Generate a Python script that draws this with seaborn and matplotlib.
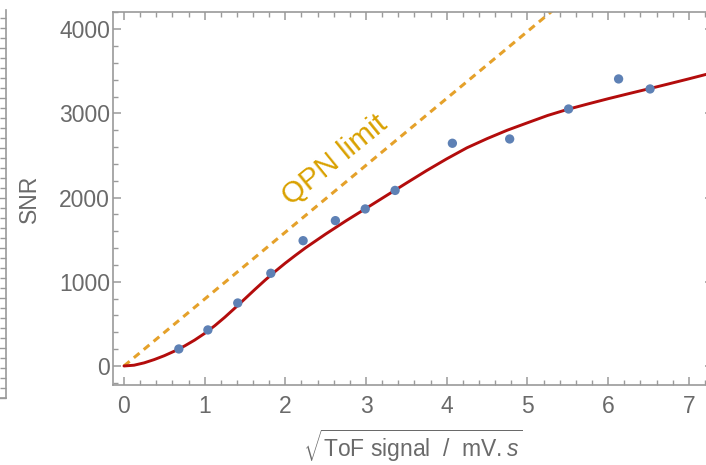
import matplotlib
matplotlib.use("Agg")
import matplotlib.pyplot as plt
import seaborn as sns
from matplotlib.ticker import MultipleLocator

# ---- data ----
meas_x = [0.68, 1.04, 1.41, 1.82, 2.22, 2.62, 2.99, 3.36, 4.07, 4.78, 5.51, 6.13, 6.52]
meas_y = [202, 428, 748, 1101, 1488, 1726, 1865, 2085, 2645, 2696, 3052, 3409, 3290]

fit_x = [0, 0.125, 0.25, 0.375, 0.5, 0.625, 0.75, 0.875, 1.0, 1.125, 1.25, 1.375,
         1.5, 1.625, 1.75, 1.875, 2.0, 2.125, 2.25, 2.5, 2.75, 3.0, 3.25, 3.5,
         3.75, 4.0, 4.25, 4.5, 4.75, 5.0, 5.25, 5.5, 5.75, 6.0, 6.25, 6.5, 6.75,
         7.0, 7.3]
fit_y = [0, 9, 37, 76, 122, 176, 237, 307, 387, 478, 579, 688,
         799, 911, 1020, 1124, 1222, 1314, 1403, 1567, 1723, 1872, 2022, 2172,
         2320, 2460, 2591, 2700, 2800, 2888, 2975, 3048, 3112, 3174, 3233, 3291, 3350,
         3410, 3484]

qpn_x = [0, 7.3]
qpn_y = [0, 5800]

x_ticks = [0, 1, 2, 3, 4, 5, 6, 7]
y_ticks = [0, 1000, 2000, 3000, 4000]

# ---- style ----
sns.set_style("white")
plt.rcParams['font.family'] = ['Liberation Sans', 'DejaVu Sans']
plt.rcParams['mathtext.fontset'] = 'custom'
plt.rcParams['mathtext.rm'] = 'Liberation Sans'
plt.rcParams['mathtext.it'] = 'Liberation Sans:italic'

frame_col = '#9a9a9a'
text_col = '#6a6a6a'

W, H = 706, 465
fig = plt.figure(figsize=(W / 100, H / 100), dpi=100)

# main axes (extends past right edge of the image, as in the reference)
ax = fig.add_axes([113 / W, (H - 385) / H, 600 / W, 373 / H])

sns.lineplot(x=qpn_x, y=qpn_y, ax=ax, color='#E5A12A', linewidth=2.2,
             linestyle=(0, (2.4, 1.8)), zorder=2)
sns.lineplot(x=fit_x, y=fit_y, ax=ax, color='#B30C0C', linewidth=2.1, zorder=3)
sns.scatterplot(x=meas_x, y=meas_y, ax=ax, color='#5E81B5', s=45,
                edgecolor='none', zorder=4)

ax.set_xlim(-0.136, 7.3)
ax.set_ylim(-226, 4204)
ax.set_xticks(x_ticks)
ax.set_yticks(y_ticks)
ax.xaxis.set_minor_locator(MultipleLocator(0.2))
ax.yaxis.set_minor_locator(MultipleLocator(200))

for sp in ax.spines.values():
    sp.set_color(frame_col)
    sp.set_linewidth(1.2)

ax.tick_params(which='both', direction='in', color=frame_col, top=True, right=True,
               bottom=True, left=True, labeltop=False, labelright=False)
ax.tick_params(which='major', length=6, width=1.1, labelsize=16.5,
               labelcolor=text_col)
ax.tick_params(axis='x', which='major', pad=7)
ax.tick_params(axis='y', which='major', pad=2)
ax.tick_params(which='minor', length=3.5, width=1.0)

ax.set_ylabel('SNR', fontsize=16.5, color=text_col)
ax.yaxis.set_label_coords(-0.12, 0.5)
ax.set_xlabel(r'$\sqrt{\mathrm{ToF\ signal\ \ /\ \ mV.}s}$', fontsize=16.5,
              color=text_col)
ax.xaxis.set_label_coords(0.5, -0.115)

ax.text(2.61, 2447, 'QPN limit', rotation=39, rotation_mode='anchor',
        ha='center', va='center', fontsize=21.5, color='#D9A100', zorder=5)

# stray partial frame of a neighbouring panel at the far left
ax2 = fig.add_axes([-0.2, (H - 398) / H, 0.2 + 6 / W, 388 / H])
ax2.set_facecolor('none')
ax2.set_xlim(0, 1)
ax2.set_ylim(0, 388)
for name, sp in ax2.spines.items():
    sp.set_visible(name in ('right', 'bottom'))
    sp.set_color(frame_col)
    sp.set_linewidth(1.2)
ax2.set_xticks([])
ax2.yaxis.set_major_locator(MultipleLocator(50))
ax2.yaxis.set_minor_locator(MultipleLocator(10))
ax2.yaxis.tick_right()
ax2.tick_params(axis='y', which='both', direction='in', color=frame_col,
                labelright=False, labelleft=False)
ax2.tick_params(axis='y', which='major', length=6, width=1.0)
ax2.tick_params(axis='y', which='minor', length=4, width=1.0)

fig.savefig('out.png', dpi=100)
